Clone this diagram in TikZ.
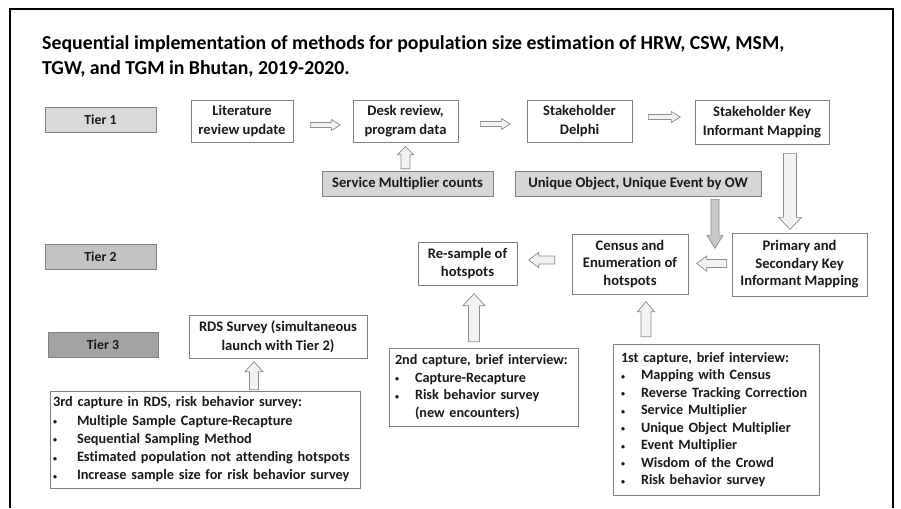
\documentclass[tikz,border=0pt]{standalone}
\usepackage{fontspec}
\setmainfont{Carlito}[Ligatures=NoCommon]
\usetikzlibrary{calc}
\definecolor{boxline}{HTML}{808080}
\definecolor{txt}{HTML}{1A1A1A}
\definecolor{tierA}{HTML}{D9D9D9}
\definecolor{tierB}{HTML}{C3C3C3}
\definecolor{tierC}{HTML}{A3A3A3}
\definecolor{srcfill}{HTML}{D6D6D6}
\definecolor{arrline}{HTML}{8C8C8C}
\definecolor{arrfill}{HTML}{F2F2F2}
\definecolor{arrdark}{HTML}{C8C8C8}
% #1 style, #2 start point, #3 angle, #4 length, #5 shaft half-width, #6 head half-width, #7 head length
\newcommand\blockarr[7][]{\draw[blk,#1,shift={#2},rotate=#3] (0,{-#5}) -- ({#4-#7},{-#5}) -- ({#4-#7},{-#6}) -- (#4,0) -- ({#4-#7},{#6}) -- ({#4-#7},{#5}) -- (0,{#5}) -- cycle;}
\newcommand\bul[1]{\makebox[#1][l]{\raisebox{0.5pt}{\fontsize{8}{8}\selectfont •}}}
\begin{document}
\begin{tikzpicture}[x=1pt,y=-1pt,
  box/.style={draw=boxline, line width=0.7pt, text=txt, font=\bfseries\fontsize{14.6}{18.5}\selectfont, align=center, inner sep=2pt},
  tier/.style={box, font=\bfseries\fontsize{13.8}{15}\selectfont},
  srcbox/.style={box, fill=srcfill},
  lst/.style={box, align=left, font=\bfseries\fontsize{14.2}{17.5}\selectfont},
  blk/.style={draw=arrline, fill=arrfill, line width=0.7pt, line join=miter},
  ttl/.style={anchor=base west, inner sep=0pt, text=black, font=\bfseries\fontsize{19.8}{25}\selectfont}
]
\useasboundingbox (0,0) rectangle (901,508);
\fill[white] (0,0) rectangle (901,508);
\draw[black, line width=1.8pt] (10,508) -- (10,9) -- (893,9) -- (893,508);

\node[ttl] (t1) at (42,49.5) {Sequential implementation of methods for population size estimation of HRW, CSW, MSM,};
\node[ttl] (t2) at (42,74.5) {TGW, and TGM in Bhutan, 2019-2020.};

\node[tier, fill=tierA, minimum width=111pt, minimum height=25pt] (tier1) at (100.5,119.5) {Tier 1};
\node[tier, fill=tierB, minimum width=111pt, minimum height=25pt] (tier2) at (100.5,256.5) {Tier 2};
\node[tier, fill=tierC, minimum width=110pt, minimum height=25pt] (tier3) at (103,344.5) {Tier 3};

\node[box, minimum width=102pt, minimum height=42pt] (lit) at (242,121) {Literature\\review update};
\node[box, minimum width=105pt, minimum height=42pt] (desk) at (405.5,121) {Desk review,\\program data};
\node[box, minimum width=105pt, minimum height=42pt] (stake) at (579.5,121) {Stakeholder\\Delphi};
\node[box, minimum width=134pt, minimum height=44pt] (skim) at (762,122) {Stakeholder Key\\Informant Mapping};

\node[srcbox, minimum width=171pt, minimum height=25pt] (svc) at (407.5,183.5) {Service Multiplier counts};
\node[srcbox, minimum width=246pt, minimum height=25pt] (uniq) at (638,183.5) {Unique Object, Unique Event by OW};

\node[box, font=\bfseries\fontsize{14.6}{17.5}\selectfont, minimum width=135pt, minimum height=63pt] (primary) at (799.5,264.5) {Primary and\\Secondary Key\\Informant Mapping};
\node[box, font=\bfseries\fontsize{14.6}{17.5}\selectfont, minimum width=116pt, minimum height=60pt] (census) at (630,264) {Census and\\Enumeration of\\hotspots};
\node[box, minimum width=99pt, minimum height=43pt] (resample) at (467.5,263.5) {Re-sample of\\hotspots};

\node[box, minimum width=178pt, minimum height=43pt] (rds) at (278,336.5) {RDS Survey (simultaneous\\launch with Tier 2)};

\node[lst, inner xsep=6pt, text width=177pt, minimum width=189pt, minimum height=78pt] (cap2) at (483.5,387) {2nd capture, brief interview:\\
\bul{20pt}Capture-Recapture\\
\bul{20pt}Risk behavior survey\\
\hspace*{20pt}(new encounters)};

\node[lst, inner xsep=8pt, text width=190pt, minimum width=206pt, minimum height=151pt] (cap1) at (716,419.5) {1st capture, brief interview:\\
\bul{20pt}Mapping with Census\\
\bul{20pt}Reverse Tracking Correction\\
\bul{20pt}Service Multiplier\\
\bul{20pt}Unique Object Multiplier\\
\bul{20pt}Event Multiplier\\
\bul{20pt}Wisdom of the Crowd\\
\bul{20pt}Risk behavior survey};

\node[lst, font=\bfseries\fontsize{14.3}{18.3}\selectfont, inner xsep=3pt, text width=304pt, minimum width=310pt, minimum height=97pt] (cap3) at (205,439.5) {3rd capture in RDS, risk behavior survey:\\
\bul{24pt}Multiple Sample Capture-Recapture\\
\bul{24pt}Sequential Sampling Method\\
\bul{24pt}Estimated population not attending hotspots\\
\bul{24pt}Increase sample size for risk behavior survey};

% block arrows
\blockarr{([shift={(17,4)}]lit.east)}{0}{30}{2.5}{5.5}{9}
\blockarr{([shift={(22,3)}]desk.east)}{0}{30}{2.5}{5.5}{9}
\blockarr{([shift={(16,-4)}]stake.east)}{0}{32}{2.5}{5.5}{9}
\blockarr{([shift={(-2,-2)}]svc.north)}{90}{22}{4.5}{8}{8}
\blockarr[fill=arrdark]{([shift={(77,3)}]uniq.south)}{270}{49}{4}{8}{13}
\blockarr{([shift={(28,9)}]skim.south)}{270}{76}{6.5}{11.5}{12}
\blockarr{([shift={(-5,-1)}]primary.west)}{180}{30}{4}{7.5}{10}
\blockarr{([shift={(-17,-4)}]census.west)}{180}{26}{4}{7.5}{10}
\blockarr{([shift={(-9.5,-6)}]cap2.north)}{90}{48}{5.5}{11}{12}
\blockarr{([shift={(-70,-7)}]cap1.north)}{90}{35}{5}{8.5}{10}
\blockarr{([shift={(49,-1)}]cap3.north)}{90}{28}{4.5}{9}{10}
\end{tikzpicture}
\end{document}
